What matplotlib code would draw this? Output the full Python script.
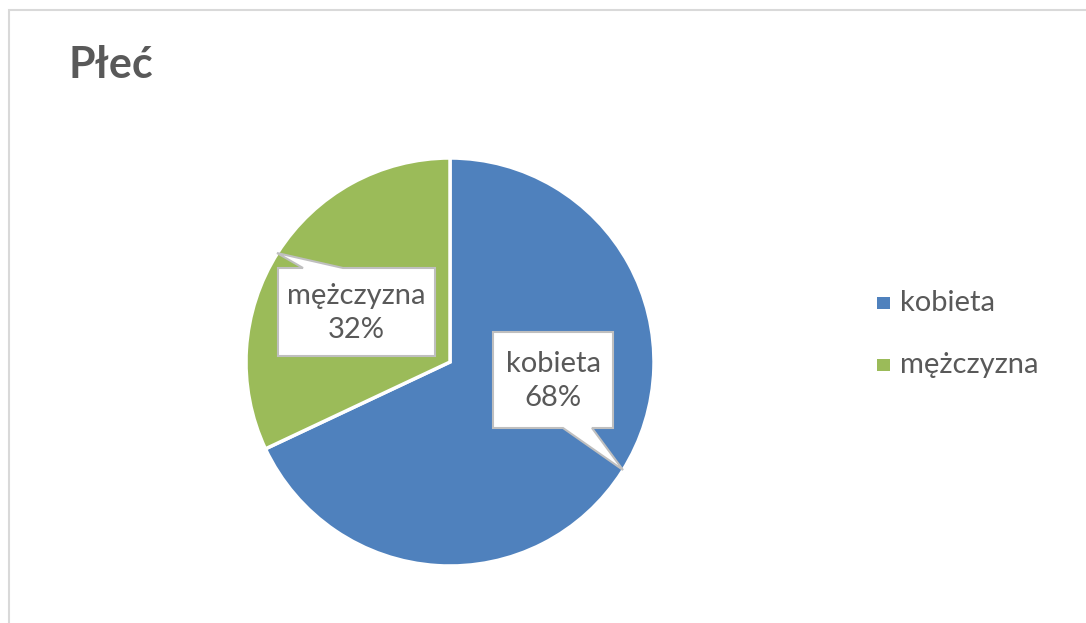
import matplotlib
matplotlib.use("Agg")
import matplotlib.pyplot as plt
from matplotlib.patches import Polygon, Rectangle

categories = ["kobieta", "mężczyzna"]
percents = [68, 32]
colors = ["#4F81BD", "#9BBB59"]
title = "Płeć"

W, H = 1086, 623
plt.rcParams['font.family'] = ['Lato', 'DejaVu Sans']
fig = plt.figure(figsize=(W / 100, H / 100), dpi=100)
ax = fig.add_axes([0, 0, 1, 1])
ax.set_xlim(0, W)
ax.set_ylim(0, H)
ax.set_aspect('equal')
ax.axis('off')

def py(y):
    return H - y

# chart frame
ax.add_patch(Rectangle((8.5, py(700)), 1200, 700 - 9.5, fill=False, edgecolor="#D9D9D9", lw=1.5))

txtc = "#595959"
ax.text(68, py(65), title, fontsize=31, fontweight='bold', color=txtc, ha='left', va='center')

wedges, _ = ax.pie(percents, colors=colors, startangle=90, counterclock=False,
                   center=(450, py(362)), radius=204,
                   wedgeprops=dict(edgecolor='white', linewidth=2.5))
ax.set_xlim(0, W)
ax.set_ylim(0, H)

# callouts: (box left, top, right, bottom), pointer (base x1, x2, tip x, tip y)
callouts = [
    dict(box=(493, 332, 613, 428), ptr=(563, 592, 623, 470), side='bottom'),
    dict(box=(278, 268, 435, 356), ptr=(303, 343, 277, 253), side='top'),
]
for cat, pct, c in zip(categories, percents, callouts):
    l, t, r, b = c['box']
    x1, x2, tx, ty = c['ptr']
    if c['side'] == 'bottom':
        pts = [(l, t), (r, t), (r, b), (x2, b), (tx, ty), (x1, b), (l, b)]
    else:
        pts = [(l, t), (x1, t), (tx, ty), (x2, t), (r, t), (r, b), (l, b)]
    pts = [(x, py(y)) for x, y in pts]
    ax.add_patch(Polygon(pts, closed=True, facecolor='white', edgecolor='#BFBFBF', lw=1.5, zorder=5))
    ax.text((l + r) / 2, py((t + b) / 2 + 1), f"{cat}\n{pct}%", fontsize=21, color=txtc,
            ha='center', va='center', linespacing=1.38, zorder=6)

# legend
for i, (cat, col) in enumerate(zip(categories, colors)):
    y = 303 + i * 62
    ax.add_patch(Rectangle((877, py(y + 6)), 13, 12, facecolor=col, edgecolor='none'))
    ax.text(900, py(y), cat, fontsize=21, color=txtc, ha='left', va='center')

fig.savefig("out.png", dpi=100)
